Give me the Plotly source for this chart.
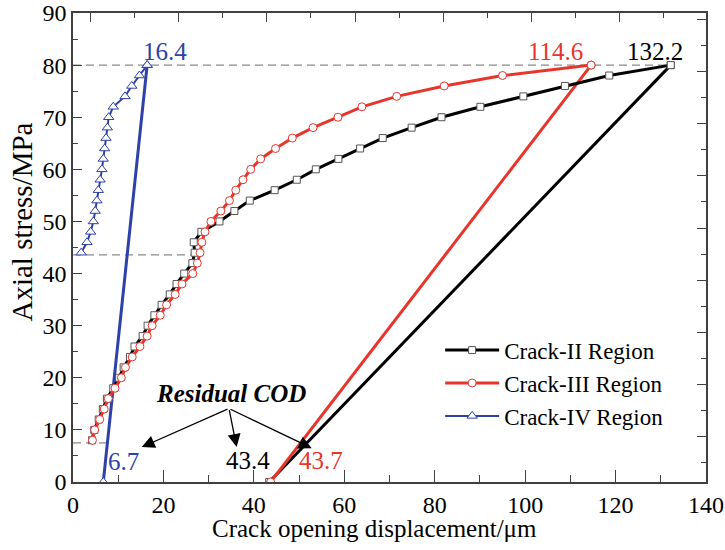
import plotly.graph_objects as go

# ---------------- data ----------------
stress_II_III = [8, 10, 12, 14, 16, 18, 20, 22, 24, 26, 28, 30, 32, 34, 36, 38, 40, 42,
                 44, 46, 48, 50, 52, 54, 56, 58, 60, 62, 64, 66, 68, 70, 72, 74, 76, 78, 80]
cod_II = [4.2, 4.7, 5.7, 6.6, 7.5, 8.9, 10.2, 11.2, 12.6, 13.6, 15.4, 16.5, 18.0, 19.6, 21.4, 22.9, 24.6, 26.4,
          26.9, 26.7, 28.4, 32.4, 35.7, 39.1, 44.6, 49.5, 53.7, 58.7, 63.5, 68.5, 74.9, 81.5, 90.1, 99.6, 108.8, 118.6, 132.2]
cod_III = [4.3, 4.8, 5.9, 6.9, 7.8, 9.3, 10.7, 11.6, 13.1, 14.8, 16.4, 17.5, 19.3, 20.7, 22.6, 24.1, 26.5, 27.5,
           28.1, 28.5, 29.2, 30.5, 32.7, 34.6, 36.0, 37.6, 39.3, 41.5, 44.8, 48.5, 53.1, 58.6, 63.9, 71.6, 82.1, 95.0, 114.6]
stress_IV = [44, 46, 48, 50, 52, 54, 56, 58, 60, 62, 64, 66, 68, 70, 72, 74, 76, 78, 80]
cod_IV = [1.8, 3.1, 3.9, 4.5, 4.9, 5.3, 5.6, 6.0, 6.4, 6.7, 7.0, 7.3, 7.6, 7.9, 8.9, 11.5, 13.0, 14.7, 16.4]

# unloading lines (peak COD -> residual COD)
unload_stress = [80, 0]
unload_II = [132.2, 43.4]
unload_III = [114.6, 43.7]
unload_IV = [16.4, 6.7]

# dashed reference lines: (x_end, y)
ref_lines = [(132.2, 80), (27.7, 43.6), (8.1, 7.5)]

x_ticks = [0, 20, 40, 60, 80, 100, 120, 140]
y_ticks = [0, 10, 20, 30, 40, 50, 60, 70, 80, 90]

BLACK = "#000000"
RED = "#e8352c"
BLUE = "#2e41a8"
FONT = "Liberation Serif"

fig = go.Figure()

for xe, yv in ref_lines:
    fig.add_trace(go.Scatter(x=[0, xe], y=[yv, yv], mode="lines",
                             line=dict(color="#8a8a8a", width=1.3, dash="8px,5px"),
                             showlegend=False, hoverinfo="skip"))

# unloading lines
fig.add_trace(go.Scatter(x=unload_II, y=unload_stress, mode="lines+markers",
                         line=dict(color=BLACK, width=3),
                         marker=dict(symbol="square", size=7, color="white", line=dict(color="#555555", width=1)),
                         showlegend=False))
fig.add_trace(go.Scatter(x=unload_III, y=unload_stress, mode="lines+markers",
                         line=dict(color=RED, width=3),
                         marker=dict(symbol="circle", size=8, color="white", line=dict(color=RED, width=1)),
                         showlegend=False))
fig.add_trace(go.Scatter(x=unload_IV, y=unload_stress, mode="lines+markers",
                         line=dict(color=BLUE, width=3),
                         marker=dict(symbol="triangle-up", size=9, color="white", line=dict(color=BLUE, width=1)),
                         showlegend=False))

# loading curves
fig.add_trace(go.Scatter(x=cod_II, y=stress_II_III, mode="lines+markers", name="Crack-II Region",
                         line=dict(color=BLACK, width=3),
                         marker=dict(symbol="square", size=7, color="white", line=dict(color="#555555", width=1))))
fig.add_trace(go.Scatter(x=cod_III, y=stress_II_III, mode="lines+markers", name="Crack-III Region",
                         line=dict(color=RED, width=3),
                         marker=dict(symbol="circle", size=8, color="white", line=dict(color=RED, width=1))))
fig.add_trace(go.Scatter(x=cod_IV, y=stress_IV, mode="lines+markers", name="Crack-IV Region",
                         line=dict(color=BLUE, width=2),
                         marker=dict(symbol="triangle-up", size=9, color="white", line=dict(color=BLUE, width=1))))

# dummy trace for the offset top/right tick axes
fig.add_trace(go.Scatter(x=[None], y=[None], xaxis="x2", yaxis="y2", showlegend=False, hoverinfo="skip"))

annotations = [
    dict(x=20.4, y=82.6, text="16.4", font=dict(color=BLUE)),
    dict(x=106.8, y=82.6, text="114.6", font=dict(color=RED)),
    dict(x=128.7, y=82.6, text="132.2", font=dict(color=BLACK)),
    dict(x=11.2, y=4.0, text="6.7", font=dict(color=BLUE)),
    dict(x=38.8, y=4.1, text="43.4", font=dict(color=BLACK)),
    dict(x=54.9, y=4.1, text="43.7", font=dict(color=RED)),
    dict(x=35.0, y=16.9, text="<b><i>Residual COD</i></b>", font=dict(color=BLACK)),
]
anns = []
for a in annotations:
    f = dict(family=FONT, size=25)
    f.update(a["font"])
    anns.append(dict(x=a["x"], y=a["y"], xref="x", yref="y", text=a["text"], showarrow=False, font=f,
                     xanchor="center", yanchor="middle"))

arrow_origin = (34.5, 14.1)
arrow_tips = [(15.2, 6.7), (36.2, 6.7), (52.8, 6.5)]
for tx, ty in arrow_tips:
    anns.append(dict(x=tx, y=ty, xref="x", yref="y", ax=arrow_origin[0], ay=arrow_origin[1],
                     axref="x", ayref="y", text="", showarrow=True, arrowhead=2,
                     arrowsize=2.0, arrowwidth=1.3, arrowcolor="black"))

# axis titles
anns.append(dict(x=0.476, y=-0.100, xref="paper", yref="paper", text="Crack opening displacement/μm",
                 showarrow=False, xanchor="center", yanchor="middle",
                 font=dict(family=FONT, size=25, color="black")))
anns.append(dict(x=-0.080, y=0.554, xref="paper", yref="paper", text="Axial stress/MPa", textangle=-90,
                 showarrow=False, xanchor="center", yanchor="middle",
                 font=dict(family=FONT, size=29, color="black")))

AX = "#404040"
fig.update_layout(
    width=725, height=550,
    margin=dict(l=73, r=19, t=13, b=68, autoexpand=False),
    paper_bgcolor="white", plot_bgcolor="white",
    font=dict(family=FONT, size=24, color="black"),
    xaxis=dict(range=[0, 140], tickvals=x_ticks, ticks="inside", ticklen=12, tickwidth=1.3, tickcolor=AX,
               minor=dict(dtick=10, ticks="inside", ticklen=7, tickcolor=AX, tickwidth=1.3),
               showline=True, linecolor=AX, linewidth=1.5, mirror=True, showgrid=False, zeroline=False,
               tickfont=dict(family=FONT, size=24), automargin=False, ticklabeloverflow="allow"),
    yaxis=dict(range=[0, 90], tickvals=y_ticks, ticks="inside", ticklen=9, tickwidth=1.3, tickcolor=AX,
               minor=dict(dtick=5, ticks="inside", ticklen=5, tickcolor=AX, tickwidth=1.3),
               showline=True, linecolor=AX, linewidth=1.5, mirror=True, showgrid=False, zeroline=False,
               tickfont=dict(family=FONT, size=24), automargin=False, ticklabeloverflow="allow"),
    xaxis2=dict(overlaying="x", side="top", anchor="y", range=[-1.96, 69.76], dtick=10, tick0=0,
                ticks="inside", ticklen=9, tickwidth=1.3, tickcolor=AX, showticklabels=False,
                minor=dict(dtick=5, ticks="inside", ticklen=5, tickcolor=AX, tickwidth=1.3),
                showline=False, showgrid=False, zeroline=False, automargin=False),
    yaxis2=dict(overlaying="y", side="right", anchor="x", range=[1.26, 91.26], dtick=10, tick0=0,
                ticks="inside", ticklen=9, tickwidth=1.3, tickcolor=AX, showticklabels=False,
                minor=dict(dtick=5, ticks="inside", ticklen=5, tickcolor=AX, tickwidth=1.3),
                showline=False, showgrid=False, zeroline=False, automargin=False),
    legend=dict(x=0.580, y=0.327, xanchor="left", yanchor="top", bgcolor="rgba(0,0,0,0)",
                font=dict(family=FONT, size=23), tracegroupgap=0, itemwidth=54),
    annotations=anns,
    showlegend=True,
)

fig.write_html("out.html", config={"displayModeBar": False},
               post_script="document.body.style.margin='0';")
